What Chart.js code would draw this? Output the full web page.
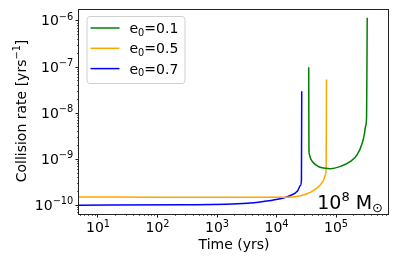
<!DOCTYPE html>
<html>
<head>
<meta charset="utf-8">
<script src="https://cdn.jsdelivr.net/npm/chart.js@4.4.0/dist/chart.umd.min.js"></script>
<style>
  html, body { margin: 0; padding: 0; background: #fff; }
  #wrap { width: 399px; height: 266px; }
</style>
</head>
<body>
<div id="wrap"><canvas id="rateChart" width="399" height="266"></canvas></div>
<script>
// time (yrs) vs collision rate (1/yrs)
const timeE01 = [3.54e4, 3.57e4, 3.64e4, 3.78e4, 4.07e4, 4.59e4, 5.36e4, 6.33e4, 8.2e4, 1.21e5, 1.78e5, 2.31e5, 2.81e5, 3.07e5, 3.18e5, 3.32e5, 3.40e5];
const rateE01 = [9.66e-8, 1.57e-9, 1.22e-9, 1.03e-9, 8.7e-10, 7.4e-10, 6.6e-10, 6.28e-10, 6.07e-10, 6.8e-10, 8.7e-10, 1.22e-9, 2.19e-9, 3.6e-9, 4.96e-9, 8.2e-9, 1.15e-6];

const timeE05 = [4.89, 100, 1000, 1.5e4, 2.57e4, 3.33e4, 4.30e4, 5.57e4, 6.33e4, 6.76e4, 6.95e4, 7.03e4];
const rateE05 = [1.47e-10, 1.46e-10, 1.45e-10, 1.45e-10, 1.57e-10, 1.73e-10, 2.05e-10, 2.72e-10, 3.49e-10, 4.49e-10, 6.37e-10, 5.2e-8];

const timeE07 = [4.89, 300, 3290, 6100, 1.18e4, 1.74e4, 2.29e4, 2.57e4, 2.67e4, 2.70e4];
const rateE07 = [9.8e-11, 1.0e-10, 1.08e-10, 1.18e-10, 1.35e-10, 1.59e-10, 1.98e-10, 2.63e-10, 3.5e-10, 2.9e-8];

const seriesEcc = ['0.1', '0.5', '0.7'];
const seriesColors = ['#008000', '#ffa500', '#0000ff'];

const xMajorTicks = [1e1, 1e2, 1e3, 1e4, 1e5];
const xTickExps = ['1', '2', '3', '4', '5'];
const yMajorTicks = [1e-10, 1e-9, 1e-8, 1e-7, 1e-6];
const yTickExps = ['\u221210', '\u22129', '\u22128', '\u22127', '\u22126'];

const xRange = [4.89, 7.9e5];
const yRange = [6.3e-11, 1.77e-6];

const FONT = '"DejaVu Sans"';
const BASE = 14, SUP = 9.8;

function toPoints(xs, ys) {
  return xs.map((x, i) => ({ x, y: ys[i] }));
}

// all 1..9 x 10^n positions inside the range; the 1 x 10^n ones are major
function logTickValues(min, max) {
  const out = [];
  for (let e = Math.floor(Math.log10(min)); e <= Math.ceil(Math.log10(max)); e++) {
    for (let k = 1; k <= 9; k++) {
      const v = k * Math.pow(10, e);
      if (v >= min && v <= max) out.push({ value: v, major: k === 1 });
    }
  }
  return out;
}

// draws "base^sup" pieces; align: 'center' | 'right' | 'left'
function drawPow(ctx, base, sup, x, y, align, size, supSize, rise) {
  ctx.font = size + 'px ' + FONT;
  const wb = ctx.measureText(base).width;
  ctx.font = supSize + 'px ' + FONT;
  const ws = ctx.measureText(sup).width;
  const total = wb + ws;
  let x0 = align === 'center' ? x - total / 2 : align === 'right' ? x - total : x;
  ctx.font = size + 'px ' + FONT;
  ctx.fillText(base, x0, y);
  ctx.font = supSize + 'px ' + FONT;
  ctx.fillText(sup, x0 + wb, y - rise);
  return total;
}

const extras = {
  id: 'extras',
  afterDatasetsDraw(chart) {
    const { ctx, chartArea: a, scales } = chart;
    const sx = scales.x, sy = scales.y;
    ctx.save();
    ctx.fillStyle = '#000';
    ctx.textBaseline = 'alphabetic';
    ctx.textAlign = 'left';

    // tick marks
    ctx.strokeStyle = '#000';
    logTickValues(xRange[0], xRange[1]).forEach(t => {
      const px = Math.round(sx.getPixelForValue(t.value)) + 0.5;
      ctx.lineWidth = t.major ? 0.9 : 0.6;
      ctx.beginPath();
      ctx.moveTo(px, a.bottom);
      ctx.lineTo(px, a.bottom + (t.major ? 3.5 : 2));
      ctx.stroke();
    });
    logTickValues(yRange[0], yRange[1]).forEach(t => {
      const py = Math.round(sy.getPixelForValue(t.value)) + 0.5;
      ctx.lineWidth = t.major ? 0.9 : 0.6;
      ctx.beginPath();
      ctx.moveTo(a.left, py);
      ctx.lineTo(a.left - (t.major ? 3.5 : 2), py);
      ctx.stroke();
    });

    // tick labels
    xMajorTicks.forEach((v, i) => {
      drawPow(ctx, '10', xTickExps[i], sx.getPixelForValue(v) + 0.5, a.bottom + 17.5, 'center', BASE, SUP, 5);
    });
    yMajorTicks.forEach((v, i) => {
      drawPow(ctx, '10', yTickExps[i], a.left - 5.7, sy.getPixelForValue(v) + 5, 'right', BASE, SUP, 5.8);
    });

    // y axis title, rotated
    ctx.save();
    ctx.translate(26, 111);
    ctx.rotate(-Math.PI / 2);
    ctx.font = BASE + 'px ' + FONT;
    const t1 = 'Collision rate [yrs', t3 = ']';
    const w1 = ctx.measureText(t1).width, w3 = ctx.measureText(t3).width;
    ctx.font = SUP + 'px ' + FONT;
    const w2 = ctx.measureText('\u22121').width;
    let tx = -(w1 + w2 + w3) / 2;
    ctx.font = BASE + 'px ' + FONT;
    ctx.fillText(t1, tx, 0); tx += w1;
    ctx.font = SUP + 'px ' + FONT;
    ctx.fillText('\u22121', tx, -5.8); tx += w2;
    ctx.font = BASE + 'px ' + FONT;
    ctx.fillText(t3, tx, 0);
    ctx.restore();

    // legend box, upper left
    const bx = a.left + 7.5, by = a.top + 7, bw = 98, bh = 67;
    ctx.beginPath();
    ctx.roundRect(bx + 0.5, by + 0.5, bw, bh, 3);
    ctx.fillStyle = 'rgba(255,255,255,0.8)';
    ctx.fill();
    ctx.strokeStyle = '#d0d0d0';
    ctx.lineWidth = 1;
    ctx.stroke();
    seriesEcc.forEach((ecc, i) => {
      const ry = by + 12 + i * 20.3;
      ctx.beginPath();
      ctx.moveTo(bx + 4, ry);
      ctx.lineTo(bx + 33, ry);
      ctx.strokeStyle = seriesColors[i];
      ctx.lineWidth = 1.5;
      ctx.stroke();
      ctx.fillStyle = '#000';
      let lx = bx + 43;
      const base = ry + 5;
      ctx.font = BASE + 'px ' + FONT;
      ctx.fillText('e', lx, base); lx += ctx.measureText('e').width;
      ctx.font = SUP + 'px ' + FONT;
      ctx.fillText('0', lx, base + 2.5); lx += ctx.measureText('0').width;
      ctx.font = BASE + 'px ' + FONT;
      ctx.fillText('=' + ecc, lx, base);
    });

    // mass label, lower right
    ctx.fillStyle = '#000';
    const bigS = 19, smallS = 13;
    const mb = a.bottom - 5;
    ctx.font = bigS + 'px ' + FONT;
    const w10 = ctx.measureText('10').width;
    const wM = ctx.measureText(' M').width;
    ctx.font = smallS + 'px ' + FONT;
    const w8 = ctx.measureText('8').width;
    const wSun = ctx.measureText('\u2299').width;
    let mx = a.right - 6 - (w10 + w8 + wM + wSun);
    ctx.font = bigS + 'px ' + FONT;
    ctx.fillText('10', mx, mb); mx += w10;
    ctx.font = smallS + 'px ' + FONT;
    ctx.fillText('8', mx, mb - 8); mx += w8;
    ctx.font = bigS + 'px ' + FONT;
    ctx.fillText(' M', mx, mb); mx += wM;
    ctx.font = smallS + 'px ' + FONT;
    ctx.fillText('\u2299', mx, mb + 3);

    // axes frame
    ctx.strokeStyle = '#222';
    ctx.lineWidth = 1;
    ctx.strokeRect(Math.round(a.left) - 0.5, Math.round(a.top) + 0.5,
      Math.round(a.right - a.left), Math.round(a.bottom - a.top));
    ctx.restore();
  }
};

const hiddenAxis = {
  border: { display: false },
  grid: { display: false },
  ticks: { display: false }
};

const chart = new Chart(document.getElementById('rateChart'), {
  type: 'line',
  data: {
    datasets: seriesEcc.map((ecc, i) => ({
      label: 'e0=' + ecc,
      data: [toPoints(timeE01, rateE01), toPoints(timeE05, rateE05), toPoints(timeE07, rateE07)][i],
      borderColor: seriesColors[i]
    }))
  },
  options: {
    responsive: false,
    animation: false,
    devicePixelRatio: 1,
    layout: { padding: { top: 9, right: 10, left: 0, bottom: 0 } },
    elements: {
      point: { radius: 0 },
      line: { borderWidth: 1.5, cubicInterpolationMode: 'monotone', fill: false }
    },
    plugins: { legend: { display: false }, tooltip: { enabled: false } },
    scales: {
      x: {
        ...hiddenAxis,
        type: 'logarithmic',
        min: xRange[0],
        max: xRange[1],
        afterFit: s => { s.height = 52; },
        title: {
          display: true,
          text: 'Time (yrs)',
          color: '#000',
          font: { family: 'DejaVu Sans', size: BASE },
          padding: { top: 0, bottom: 12 }
        }
      },
      y: {
        ...hiddenAxis,
        type: 'logarithmic',
        min: yRange[0],
        max: yRange[1],
        afterFit: s => { s.width = 79; }
      }
    }
  },
  plugins: [extras]
});
</script>
</body>
</html>
